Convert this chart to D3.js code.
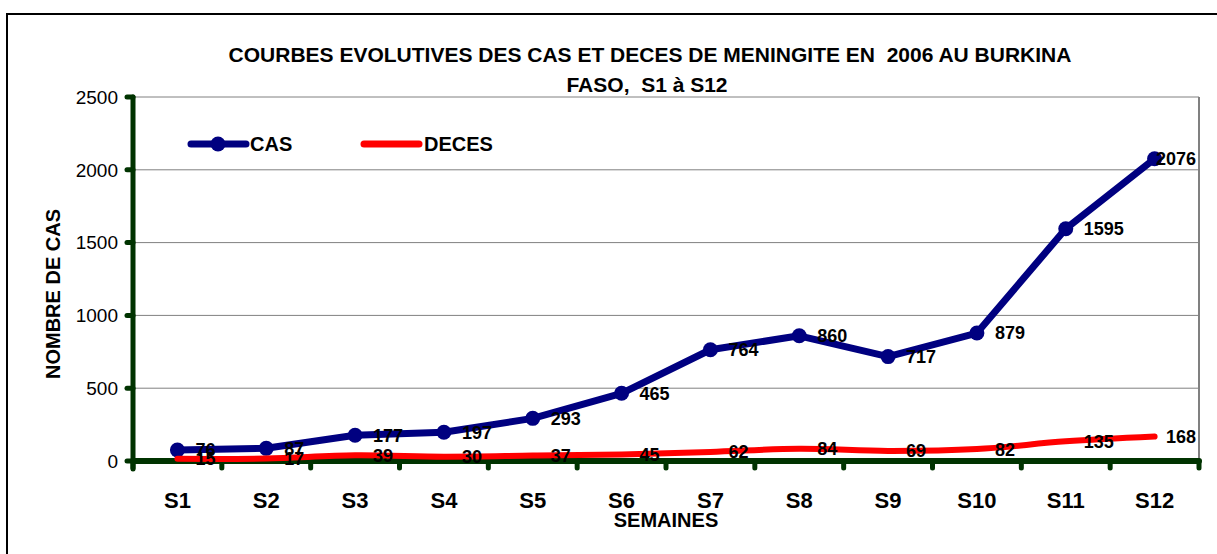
<!DOCTYPE html>
<html>
<head>
<meta charset="utf-8">
<script src="https://cdn.jsdelivr.net/npm/d3@7"></script>
<style>
  body { margin: 0; background: #fff; }
  svg text { font-family: "Liberation Sans", Arial, sans-serif; }
</style>
</head>
<body>
<div id="root"></div>
<script>
const weeks = ["S1", "S2", "S3", "S4", "S5", "S6", "S7", "S8", "S9", "S10", "S11", "S12"];
const cas = [76, 87, 177, 197, 293, 465, 764, 860, 717, 879, 1595, 2076];
const deces = [15, 17, 39, 30, 37, 45, 62, 84, 69, 82, 135, 168];
const yTicks = [0, 500, 1000, 1500, 2000, 2500];

const width = 1217, height = 554;
const plot = { left: 133, top: 97, right: 1199, bottom: 461 };
const axisColor = "#003300";

const svg = d3.select("#root").append("svg")
    .attr("width", width)
    .attr("height", height);

// outer frame (runs off the picture right and bottom)
svg.append("rect")
    .attr("x", 7).attr("y", 14)
    .attr("width", 1400).attr("height", 700)
    .attr("fill", "none")
    .attr("stroke", "#000")
    .attr("stroke-width", 2);

const x = d3.scaleBand().domain(weeks).range([plot.left, plot.right]);
const y = d3.scaleLinear().domain([0, 2500]).range([plot.bottom, plot.top]);
const cx = d => x(d) + x.bandwidth() / 2;

// title
const title = svg.append("text")
    .attr("text-anchor", "middle")
    .style("font-size", "21px")
    .style("font-weight", "bold");
title.append("tspan").attr("x", 650).attr("y", 62)
    .text("COURBES EVOLUTIVES DES CAS ET DECES DE MENINGITE EN  2006 AU BURKINA")
    .attr("xml:space", "preserve");
title.append("tspan").attr("x", 647).attr("y", 92)
    .text("FASO,  S1 à S12")
    .attr("xml:space", "preserve");

// grid
svg.append("g").selectAll("line")
    .data(yTicks.filter(v => v > 0))
    .enter().append("line")
    .attr("x1", plot.left).attr("x2", plot.right)
    .attr("y1", d => y(d)).attr("y2", d => y(d))
    .attr("stroke", "#808080")
    .attr("stroke-width", 1);

svg.append("line")
    .attr("x1", plot.right).attr("x2", plot.right)
    .attr("y1", plot.top).attr("y2", plot.bottom)
    .attr("stroke", "#808080")
    .attr("stroke-width", 2);

// y axis
const yAxis = svg.append("g");
yAxis.append("line")
    .attr("x1", plot.left).attr("x2", plot.left)
    .attr("y1", plot.top).attr("y2", plot.bottom + 8)
    .attr("stroke", axisColor)
    .attr("stroke-width", 5)
    .attr("stroke-linecap", "round");
yAxis.selectAll(".ytick")
    .data(yTicks)
    .enter().append("line")
    .attr("x1", plot.left).attr("x2", plot.left - 6)
    .attr("y1", d => y(d)).attr("y2", d => y(d))
    .attr("stroke", axisColor)
    .attr("stroke-width", 5)
    .attr("stroke-linecap", "round");
yAxis.selectAll("text")
    .data(yTicks)
    .enter().append("text")
    .attr("x", 118)
    .attr("y", d => y(d))
    .attr("dy", "0.36em")
    .attr("text-anchor", "end")
    .style("font-size", "19px")
    .text(d => d);

// x axis
const xAxis = svg.append("g");
xAxis.append("line")
    .attr("x1", plot.left).attr("x2", plot.right)
    .attr("y1", plot.bottom).attr("y2", plot.bottom)
    .attr("stroke", axisColor)
    .attr("stroke-width", 6)
    .attr("stroke-linecap", "round");
xAxis.selectAll(".xtick")
    .data(weeks.map(w => x(w)).concat([plot.right]))
    .enter().append("line")
    .attr("x1", d => d).attr("x2", d => d)
    .attr("y1", plot.bottom).attr("y2", plot.bottom + 7)
    .attr("stroke", axisColor)
    .attr("stroke-width", 5)
    .attr("stroke-linecap", "round");
xAxis.selectAll("text")
    .data(weeks)
    .enter().append("text")
    .attr("x", d => cx(d))
    .attr("y", 508)
    .attr("text-anchor", "middle")
    .style("font-size", "22px")
    .style("font-weight", "bold")
    .text(d => d);

svg.append("text")
    .attr("x", (plot.left + plot.right) / 2)
    .attr("y", 527)
    .attr("text-anchor", "middle")
    .style("font-size", "20px")
    .style("font-weight", "bold")
    .text("SEMAINES");

svg.append("text")
    .attr("transform", "translate(53,294) rotate(-90)")
    .attr("dy", "0.36em")
    .attr("text-anchor", "middle")
    .style("font-size", "20px")
    .style("font-weight", "bold")
    .text("NOMBRE DE CAS");

// series
const casLine = d3.line()
    .x((d, i) => cx(weeks[i]))
    .y(d => y(d));
const decesLine = d3.line()
    .x((d, i) => cx(weeks[i]))
    .y(d => y(d))
    .curve(d3.curveCatmullRom.alpha(0.5));

svg.append("path")
    .datum(cas)
    .attr("d", casLine)
    .attr("fill", "none")
    .attr("stroke", "#000080")
    .attr("stroke-width", 7)
    .attr("stroke-linejoin", "round")
    .attr("stroke-linecap", "round");

svg.selectAll(".dot")
    .data(cas)
    .enter().append("circle")
    .attr("cx", (d, i) => cx(weeks[i]))
    .attr("cy", d => y(d))
    .attr("r", 7.5)
    .attr("fill", "#000080");

svg.append("path")
    .datum(deces)
    .attr("d", decesLine)
    .attr("fill", "none")
    .attr("stroke", "#ff0000")
    .attr("stroke-width", 6)
    .attr("stroke-linejoin", "round")
    .attr("stroke-linecap", "round");

// data labels, pushed back inside the plot when they overflow
function labels(values) {
    svg.append("g").selectAll("text")
        .data(values)
        .enter().append("text")
        .attr("x", (d, i) => cx(weeks[i]) + 18)
        .attr("y", d => y(d))
        .attr("dy", "0.36em")
        .style("font-size", "18px")
        .style("font-weight", "bold")
        .text(d => d)
        .each(function() {
            const b = this.getBBox();
            if (b.x + b.width > plot.right - 3) {
                d3.select(this).attr("x", plot.right - 3 - b.width);
            }
        });
}
labels(cas);
labels(deces);

// legend
const legend = svg.append("g");
legend.append("line")
    .attr("x1", 191).attr("x2", 246)
    .attr("y1", 144).attr("y2", 144)
    .attr("stroke", "#000080")
    .attr("stroke-width", 7)
    .attr("stroke-linecap", "round");
legend.append("circle")
    .attr("cx", 218).attr("cy", 144).attr("r", 7.5)
    .attr("fill", "#000080");
legend.append("text")
    .attr("x", 250).attr("y", 144).attr("dy", "0.36em")
    .style("font-size", "20px")
    .style("font-weight", "bold")
    .text("CAS");
legend.append("line")
    .attr("x1", 364).attr("x2", 419)
    .attr("y1", 144).attr("y2", 144)
    .attr("stroke", "#ff0000")
    .attr("stroke-width", 7)
    .attr("stroke-linecap", "round");
legend.append("text")
    .attr("x", 424).attr("y", 144).attr("dy", "0.36em")
    .style("font-size", "20px")
    .style("font-weight", "bold")
    .text("DECES");
</script>
</body>
</html>
